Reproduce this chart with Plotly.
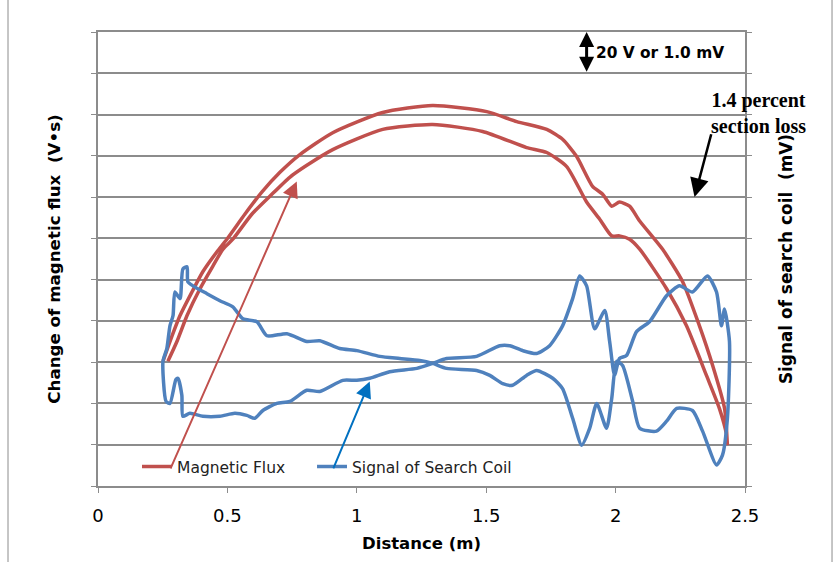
import plotly.graph_objects as go

# ---------------- data ----------------
# Magnetic flux: outward sweep (outer arch), left -> right
flux_out_dist = [0.251, 0.278, 0.317, 0.363, 0.405, 0.459, 0.498, 0.568, 0.633, 0.703, 0.780,
                 0.907, 1.100, 1.293, 1.502, 1.618, 1.734, 1.795, 1.849, 1.911, 1.950, 1.985,
                 2.015, 2.054, 2.093, 2.181, 2.259, 2.324, 2.375, 2.421, 2.432]
flux_out_val = [3.02, 3.50, 4.13, 4.70, 5.19, 5.67, 5.98, 6.59, 7.12, 7.60, 8.03,
                8.56, 9.05, 9.22, 9.07, 8.83, 8.64, 8.40, 7.99, 7.26, 7.07, 6.78,
                6.88, 6.78, 6.42, 5.74, 4.95, 3.88, 2.92, 1.88, 0.99]
# Magnetic flux: return sweep (inner arch), listed left -> right
flux_ret_dist = [0.270, 0.305, 0.344, 0.394, 0.444, 0.483, 0.521, 0.595, 0.664, 0.741, 0.807,
                 0.907, 1.100, 1.293, 1.486, 1.656, 1.734, 1.811, 1.888, 1.938, 1.985,
                 2.015, 2.054, 2.093, 2.197, 2.274, 2.351, 2.401, 2.429, 2.432]
flux_ret_val = [3.02, 3.50, 4.13, 4.78, 5.33, 5.74, 5.98, 6.59, 7.02, 7.48, 7.77,
                8.15, 8.64, 8.76, 8.59, 8.20, 8.08, 7.74, 6.88, 6.47, 6.06,
                6.06, 5.98, 5.74, 4.78, 3.88, 2.68, 1.88, 1.23, 0.99]

# Signal of search coil: one closed loop
coil_dist = [0.251, 0.266, 0.278, 0.290, 0.297, 0.317, 0.328, 0.344, 0.347, 0.367, 0.421,
             0.471, 0.521, 0.560, 0.614, 0.653, 0.730, 0.807, 0.857, 0.934, 1.000, 1.089,
             1.166, 1.243, 1.293, 1.347, 1.463, 1.514, 1.564, 1.602, 1.656, 1.695, 1.757,
             1.795, 1.834, 1.869, 1.900, 1.927, 1.965, 1.985, 2.004, 2.027, 2.066, 2.093,
             2.158, 2.197, 2.236, 2.297, 2.336, 2.390, 2.413, 2.432, 2.440,
             2.421, 2.409, 2.390, 2.355, 2.297, 2.247, 2.197, 2.131, 2.081, 2.042, 2.015,
             1.996, 1.977, 1.958, 1.919, 1.888, 1.861, 1.834, 1.795, 1.745, 1.695, 1.641,
             1.591, 1.552, 1.463, 1.347, 1.293, 1.232, 1.127, 1.050, 1.000, 0.946, 0.857,
             0.807, 0.741, 0.691, 0.637, 0.606, 0.575, 0.529, 0.471, 0.405, 0.355, 0.328,
             0.324, 0.309, 0.301, 0.278, 0.263, 0.251]
coil_val = [3.02, 3.33, 3.88, 4.13, 4.70, 4.54, 5.26, 5.31, 4.95, 4.85, 4.66,
            4.49, 4.34, 4.05, 3.98, 3.64, 3.69, 3.50, 3.52, 3.33, 3.28, 3.14,
            3.09, 3.04, 2.97, 2.85, 2.80, 2.68, 2.48, 2.44, 2.68, 2.80, 2.61,
            2.36, 1.64, 0.99, 1.40, 2.00, 1.40, 2.12, 3.02, 2.92, 2.05, 1.40,
            1.33, 1.57, 1.88, 1.83, 1.33, 0.51, 0.75, 1.64, 3.50,
            4.29, 3.88, 4.70, 5.09, 4.70, 4.85, 4.61, 3.98, 3.74, 3.16, 3.09,
            2.68, 3.50, 4.25, 3.81, 4.85, 5.09, 4.54, 3.88, 3.40, 3.21, 3.28,
            3.40, 3.40, 3.14, 3.09, 2.97, 2.85, 2.77, 2.61, 2.56, 2.56, 2.29,
            2.32, 2.05, 2.00, 1.83, 1.64, 1.71, 1.76, 1.69, 1.69, 1.76, 1.69,
            2.20, 2.61, 2.58, 2.00, 2.05, 3.02]

x_tick_vals = [0, 0.5, 1, 1.5, 2, 2.5]
x_tick_text = ["0", "0.5", "1", "1.5", "2", "2.5"]

RED = "#C0504D"
BLUE = "#4F81BD"
GRID = "#8c8c8c"
SANS = "DejaVu Sans"

fig = go.Figure()
fig.add_trace(go.Scatter(
    x=flux_out_dist + flux_ret_dist[::-1],
    y=flux_out_val + flux_ret_val[::-1],
    mode="lines", name="Magnetic Flux", legend="legend",
    line=dict(color=RED, width=3.5, shape="spline", smoothing=0.6)))
fig.add_trace(go.Scatter(
    x=coil_dist, y=coil_val, yaxis="y2",
    mode="lines", name="Signal of Search Coil", legend="legend2",
    line=dict(color=BLUE, width=3.5, shape="spline", smoothing=0.6)))

ann = []
# leader arrows from legend entries
ann.append(dict(x=0.768, y=7.38, ax=0.278, ay=0.39, xref="x", yref="y", axref="x", ayref="y",
                text="", showarrow=True, arrowhead=2, arrowsize=1.6, arrowwidth=2, arrowcolor=RED))
ann.append(dict(x=1.050, y=2.53, ax=0.907, ay=0.39, xref="x", yref="y", axref="x", ayref="y",
                text="", showarrow=True, arrowhead=2, arrowsize=1.6, arrowwidth=2, arrowcolor="#0070C0"))
# scale arrow
ann.append(dict(x=1.888, y=11.0, ax=1.888, ay=10.0, xref="x", yref="y", axref="x", ayref="y",
                text="", showarrow=True, arrowhead=2, arrowside="end+start", arrowsize=1.0,
                arrowwidth=3, arrowcolor="black"))
ann.append(dict(x=1.915, y=10.49, xref="x", yref="y", xanchor="left", yanchor="middle",
                text="20 V or 1.0 mV", showarrow=False,
                font=dict(family=SANS, size=15.4, color="black", weight="bold")))
# section loss callout
ann.append(dict(x=2.305, y=7.00, ax=2.371, ay=8.56, xref="x", yref="y", axref="x", ayref="y",
                text="", showarrow=True, arrowhead=2, arrowsize=1.5, arrowwidth=2.5, arrowcolor="black"))
ann.append(dict(x=1.0216, y=0.822, xref="paper", yref="paper", xanchor="center", yanchor="middle",
                text="1.4 percent<br>section loss", showarrow=False,
                font=dict(family="Liberation Serif", size=20, color="black", weight="bold")))

shapes = [
    dict(type="line", xref="paper", yref="paper", x0=-0.1391, x1=-0.1391, y0=-0.3, y1=1.2,
         line=dict(color=GRID, width=1)),
    dict(type="line", xref="paper", yref="paper", x0=1.1345, x1=1.1345, y0=-0.3, y1=1.2,
         line=dict(color=GRID, width=1)),
]

legend_common = dict(orientation="h", y=0.042, xanchor="left", yanchor="middle",
                     bgcolor="rgba(0,0,0,0)", font=dict(family=SANS, size=15.5, color="#222"),
                     itemwidth=30)

fig.update_layout(
    width=837, height=562,
    margin=dict(l=98, r=92, t=32, b=74, pad=0),
    paper_bgcolor="white", plot_bgcolor="white",
    showlegend=True,
    legend=dict(x=0.0603, **legend_common),
    legend2=dict(x=0.3308, **legend_common),
    xaxis=dict(range=[0, 2.5], tickvals=x_tick_vals, ticktext=x_tick_text,
               ticks="outside", ticklen=5, tickcolor=GRID, showgrid=False, zeroline=False,
               showline=True, linecolor=GRID, linewidth=1.5, mirror=True,
               tickfont=dict(family=SANS, size=18, color="black"), ticklabelstandoff=8,
               title=dict(text="Distance (m)", standoff=12,
                          font=dict(family=SANS, size=16.5, color="black", weight="bold"))),
    yaxis=dict(range=[0, 11], dtick=1, ticks="outside", ticklen=5, tickcolor=GRID,
               showticklabels=False, showgrid=True, gridcolor=GRID, gridwidth=1.5,
               zeroline=False, showline=True, linecolor=GRID, linewidth=1.5, automargin=True,
               title=dict(text="Change of magnetic flux\u00a0 (V•s)", standoff=26,
                          font=dict(family=SANS, size=16.7, color="black", weight="bold"))),
    yaxis2=dict(range=[0, 11], dtick=1, overlaying="y", side="right", ticks="outside",
                ticklen=5, tickcolor=GRID, showticklabels=False, showgrid=False, zeroline=False,
                showline=True, linecolor=GRID, linewidth=1.5, automargin=True,
                title=dict(text="Signal of search coil\u00a0 (mV)", standoff=29,
                           font=dict(family=SANS, size=16.9, color="black", weight="bold"))),
    annotations=ann, shapes=shapes,
)

fig.write_html("out.html")
